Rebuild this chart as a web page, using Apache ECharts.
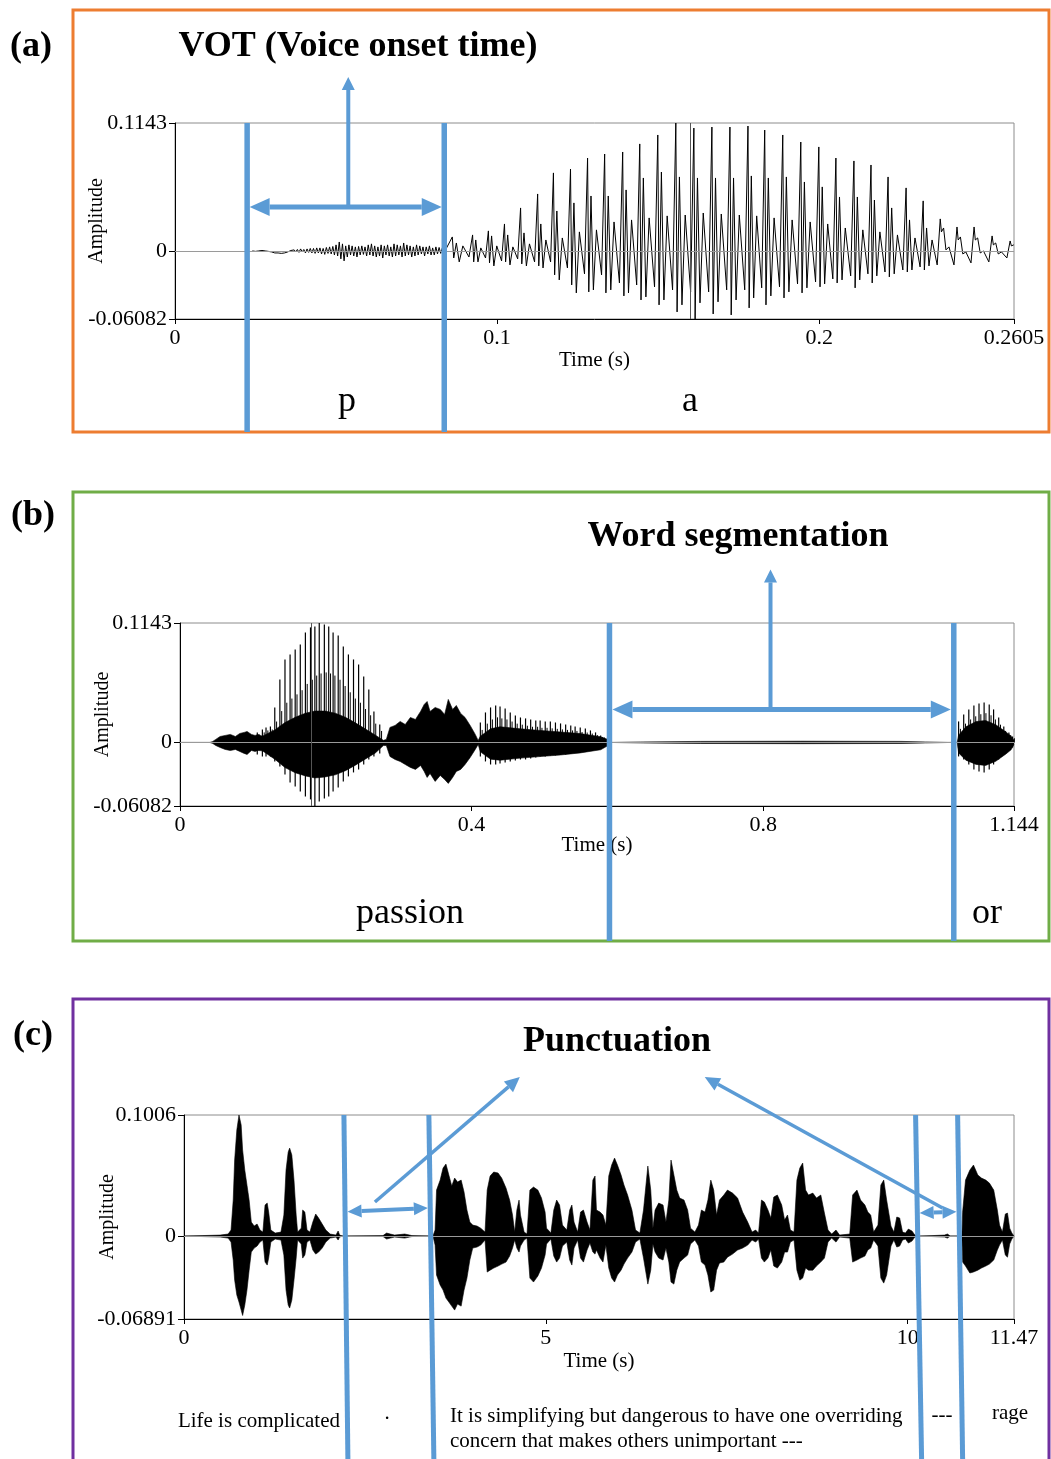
<!DOCTYPE html>
<html>
<head>
<meta charset="utf-8">
<script src="https://cdn.jsdelivr.net/npm/echarts@6.0.0/dist/echarts.min.js"></script>
<style>
html,body{margin:0;padding:0;background:#fff;}
#chart{width:1051px;height:1459px;}
</style>
</head>
<body>
<div id="chart"></div>
<script>
// ---------------- axis ranges and tick labels ----------------
const aTimeTicks = [0, 0.1, 0.2, 0.2605];
const bTimeTicks = [0, 0.4, 0.8, 1.144];
const cTimeTicks = [0, 5, 10, 11.47];
const aAmpTicks = [-0.06082, 0, 0.1143];
const bAmpTicks = [-0.06082, 0, 0.1143];
const cAmpTicks = [-0.06891, 0, 0.1006];

// ---------------- (a) "pa": aspiration noise then voicing ----------------
// aspiration noise, sampled every 0.5 ms from 24 ms
const aNoiseStart = 0.024;
const aNoiseStep = 0.0005;
const aNoise = [
  0, 0.0004, -0.0004, 0.0004, 0, -0.0004, 0.0004, -0.0004, 0, 0.0004, -0.0004, 0,
  -0.0009, -0.0013, -0.0018, -0.0022, -0.0018, -0.0027, -0.0022, -0.0027, -0.0018, -0.0013, -0.0009, -0.0004, 0.0004, -0.0004,
  0.0009, -0.0009, 0.0013, -0.0013, 0.0018, -0.0009, 0.0013, -0.0018, 0.0018, -0.0013, 0.0022, -0.0018,
  0.0022, -0.0022, 0.0027, -0.0018, 0.0027, -0.0027, 0.0022, -0.0031, 0.0031, -0.0022, 0.0036, -0.0027,
  0.0040, -0.0036, 0.0054, -0.0045, 0.0080, -0.0071, 0.0063, -0.0089, 0.0045, -0.0054, 0.0054, -0.0036,
  0.0045, -0.0045, 0.0036, -0.0054, 0.0040, -0.0036, 0.0045, -0.0031, 0.0036, -0.0045, 0.0054, -0.0036,
  0.0063, -0.0045, 0.0045, -0.0054, 0.0036, -0.0045, 0.0054, -0.0063, 0.0045, -0.0036, 0.0054, -0.0045,
  0.0036, -0.0054, 0.0063, -0.0045, 0.0054, -0.0036, 0.0045, -0.0054, 0.0071, -0.0045, 0.0054, -0.0036,
  0.0045, -0.0054, 0.0036, -0.0045, 0.0054, -0.0036, 0.0045, -0.0027, 0.0036, -0.0045, 0.0036, -0.0027,
  0.0045, -0.0036, 0.0027, -0.0036, 0.0036, -0.0027, 0.0031, -0.0022, 0.0027, -0.0018, 0.0009
];
// glottal pulses: [time, peak, dip, 2nd peak, 2nd dip, 3rd peak, 3rd dip]
const aPulses = [
  [0.0861, 0.0125, -0.0063, 0.0071, -0.0098, 0.0045, -0.0054],
  [0.0924, 0.0143, -0.0098, 0.0098, -0.0098, 0.0027, -0.0063],
  [0.0973, 0.0179, -0.0107, 0.0134, -0.0134, 0.0045, -0.0089],
  [0.1023, 0.0241, -0.0098, 0.0143, -0.0125, 0.0036, -0.0071],
  [0.1073, 0.0384, -0.0116, 0.0161, -0.0134, 0.0063, -0.0098],
  [0.1126, 0.0509, -0.0134, 0.0241, -0.0152, 0.0098, -0.0098],
  [0.1175, 0.0697, -0.0214, 0.0357, -0.0259, 0.0116, -0.0152],
  [0.1228, 0.0732, -0.0304, 0.0429, -0.0375, 0.0170, -0.0205],
  [0.1281, 0.0830, -0.0366, 0.0491, -0.0348, 0.0188, -0.0214],
  [0.1334, 0.0866, -0.0375, 0.0491, -0.0348, 0.0259, -0.0286],
  [0.1390, 0.0884, -0.0402, 0.0545, -0.0375, 0.0277, -0.0304],
  [0.1443, 0.0956, -0.0438, 0.0652, -0.0411, 0.0295, -0.0321],
  [0.1499, 0.1036, -0.0482, 0.0705, -0.0438, 0.0313, -0.0348],
  [0.1555, 0.1143, -0.0545, 0.0661, -0.0482, 0.0321, -0.0366],
  [0.1611, 0.1098, -0.0608, 0.0652, -0.0464, 0.0339, -0.0366],
  [0.1667, 0.1107, -0.0563, 0.0652, -0.0455, 0.0330, -0.0348],
  [0.1723, 0.1107, -0.0572, 0.0652, -0.0438, 0.0321, -0.0348],
  [0.1779, 0.1116, -0.0509, 0.0670, -0.0420, 0.0313, -0.0330],
  [0.1831, 0.1080, -0.0482, 0.0652, -0.0402, 0.0295, -0.0321],
  [0.1887, 0.1036, -0.0420, 0.0661, -0.0366, 0.0277, -0.0295],
  [0.1943, 0.0973, -0.0375, 0.0616, -0.0330, 0.0259, -0.0277],
  [0.1999, 0.0929, -0.0321, 0.0572, -0.0295, 0.0241, -0.0250],
  [0.2052, 0.0830, -0.0286, 0.0482, -0.0259, 0.0205, -0.0223],
  [0.2108, 0.0804, -0.0330, 0.0482, -0.0259, 0.0188, -0.0205],
  [0.2161, 0.0768, -0.0286, 0.0455, -0.0223, 0.0170, -0.0188],
  [0.2214, 0.0661, -0.0232, 0.0384, -0.0205, 0.0143, -0.0170],
  [0.2270, 0.0563, -0.0188, 0.0277, -0.0170, 0.0116, -0.0143],
  [0.2323, 0.0447, -0.0170, 0.0205, -0.0134, 0.0098, -0.0125],
  [0.2376, 0.0286, 0.0170, 0.0205, 0.0009, 0.0036, -0.0125],
  [0.2428, 0.0214, 0.0098, 0.0125, -0.0027, -0.0009, -0.0107],
  [0.2481, 0.0214, 0.0098, 0.0116, -0.0018, 0.0000, -0.0098],
  [0.2537, 0.0134, 0.0054, 0.0071, -0.0027, -0.0009, -0.0063],
  [0.2593, 0.0089, 0.0045, 0.0054, 0.0009, 0.0018, -0.0018]
];
// where each extremum falls within its pitch period
const aPulsePhase = [0, 0.07, 0.2, 0.34, 0.52, 0.82];
const aCursor = 0.1558;

// ---------------- (b) "passion or": envelopes [time, upper, lower] ----------------
const bBurst = [
  [0, 0, 0], [0.041, 0, 0], [0.045, 0.0010, -0.0010], [0.049, 0.0029, -0.0029], [0.055, 0.0057, -0.0048],
  [0.062, 0.0067, -0.0067], [0.069, 0.0077, -0.0077], [0.076, 0.0057, -0.0067], [0.082, 0.0086, -0.0086],
  [0.088, 0.0096, -0.0105], [0.092, 0.0105, -0.0115], [0.098, 0.0077, -0.0077], [0.103, 0.0067, -0.0086],
  [0.107, 0.0077, -0.0077]
];
const bVowelCore = [
  [0.113, 0.0060, -0.0080], [0.130, 0.0120, -0.0160], [0.144, 0.0190, -0.0240], [0.158, 0.0240, -0.0290],
  [0.172, 0.0280, -0.0320], [0.185, 0.0300, -0.0340], [0.199, 0.0300, -0.0330], [0.213, 0.0280, -0.0310],
  [0.227, 0.0240, -0.0270], [0.240, 0.0190, -0.0220], [0.254, 0.0130, -0.0160], [0.268, 0.0070, -0.0100],
  [0.279, 0.0020, -0.0030]
];
const bFricative = [
  [0.283, 0.0029, -0.0029], [0.288, 0.0144, -0.0134], [0.295, 0.0163, -0.0163], [0.302, 0.0201, -0.0182],
  [0.309, 0.0172, -0.0211], [0.316, 0.0239, -0.0239], [0.323, 0.0220, -0.0258], [0.330, 0.0297, -0.0220],
  [0.335, 0.0364, -0.0278], [0.339, 0.0392, -0.0335], [0.343, 0.0297, -0.0297], [0.350, 0.0335, -0.0373],
  [0.357, 0.0316, -0.0316], [0.363, 0.0268, -0.0354], [0.368, 0.0412, -0.0392], [0.374, 0.0316, -0.0335],
  [0.379, 0.0354, -0.0278], [0.385, 0.0278, -0.0258], [0.391, 0.0239, -0.0211], [0.398, 0.0163, -0.0144],
  [0.405, 0.0077, -0.0067], [0.409, 0.0019, -0.0019]
];
const bIonCore = [
  [0.412, 0.0060, -0.0090], [0.426, 0.0130, -0.0160], [0.439, 0.0150, -0.0170], [0.467, 0.0130, -0.0150],
  [0.494, 0.0115, -0.0135], [0.522, 0.0100, -0.0120], [0.549, 0.0085, -0.0100], [0.577, 0.0055, -0.0070],
  [0.586, 0.0030, -0.0035]
];
const bPause = [
  [0.590, 0, 0], [0.632, 0.0005, -0.0005], [0.714, 0.0010, -0.0010], [0.851, 0.0012, -0.0012],
  [0.989, 0.0010, -0.0010], [1.023, 0.0005, -0.0005], [1.057, 0, 0]
];
const bOrCore = [
  [1.066, 0, 0], [1.068, 0.0070, -0.0100], [1.078, 0.0150, -0.0170], [1.092, 0.0200, -0.0210],
  [1.105, 0.0210, -0.0220], [1.119, 0.0170, -0.0180], [1.133, 0.0100, -0.0110], [1.140, 0.0060, -0.0070],
  [1.144, 0.0020, -0.0020]
];
// voiced pulses [time, peak, trough, secondary peak]
const bPulsesA = [
  [0.106, 0.0096, -0.0115, 0.0077], [0.113, 0.0124, -0.0134, 0.0096], [0.118, 0.0144, -0.0134, 0.0115],
  [0.124, 0.0153, -0.0134, 0.0124], [0.130, 0.0335, -0.0182, 0.0200], [0.137, 0.0603, -0.0230, 0.0300],
  [0.144, 0.0794, -0.0306, 0.0380], [0.151, 0.0842, -0.0383, 0.0420], [0.158, 0.0890, -0.0421, 0.0460],
  [0.165, 0.0938, -0.0469, 0.0500], [0.172, 0.1053, -0.0517, 0.0560], [0.179, 0.1101, -0.0545, 0.0600],
  [0.185, 0.1110, -0.0608, 0.0640], [0.191, 0.1143, -0.0565, 0.0660], [0.198, 0.1129, -0.0536, 0.0670],
  [0.204, 0.1110, -0.0517, 0.0660], [0.210, 0.1053, -0.0469, 0.0640], [0.217, 0.1024, -0.0431, 0.0600],
  [0.224, 0.0919, -0.0373, 0.0540], [0.231, 0.0842, -0.0325, 0.0480], [0.238, 0.0794, -0.0287, 0.0420],
  [0.245, 0.0746, -0.0258, 0.0380], [0.252, 0.0632, -0.0211, 0.0320], [0.259, 0.0507, -0.0163, 0.0260],
  [0.266, 0.0297, -0.0134, 0.0180], [0.274, 0.0172, -0.0105, 0.0110]
];
const bPulsesIon = [
  [0.412, 0.0191, -0.0134, 0.0120], [0.419, 0.0287, -0.0182, 0.0180], [0.426, 0.0335, -0.0211, 0.0220],
  [0.433, 0.0354, -0.0211, 0.0240], [0.439, 0.0345, -0.0201, 0.0230], [0.446, 0.0325, -0.0191, 0.0220],
  [0.453, 0.0287, -0.0182, 0.0200], [0.460, 0.0258, -0.0172, 0.0180], [0.467, 0.0239, -0.0163, 0.0170],
  [0.474, 0.0230, -0.0163, 0.0160], [0.481, 0.0220, -0.0153, 0.0150], [0.488, 0.0211, -0.0144, 0.0150],
  [0.494, 0.0211, -0.0134, 0.0140], [0.501, 0.0201, -0.0134, 0.0140], [0.508, 0.0201, -0.0124, 0.0135],
  [0.515, 0.0191, -0.0124, 0.0130], [0.522, 0.0182, -0.0115, 0.0125], [0.529, 0.0172, -0.0115, 0.0120],
  [0.536, 0.0163, -0.0105, 0.0115], [0.542, 0.0153, -0.0096, 0.0110], [0.549, 0.0144, -0.0096, 0.0100],
  [0.556, 0.0134, -0.0086, 0.0095], [0.563, 0.0115, -0.0077, 0.0085], [0.570, 0.0096, -0.0067, 0.0070],
  [0.577, 0.0067, -0.0057, 0.0050], [0.582, 0.0048, -0.0038, 0.0035]
];
const bPulsesOr = [
  [1.068, 0.0201, -0.0134, 0.0130], [1.075, 0.0268, -0.0163, 0.0180], [1.082, 0.0316, -0.0211, 0.0220],
  [1.089, 0.0354, -0.0258, 0.0250], [1.096, 0.0373, -0.0278, 0.0270], [1.103, 0.0383, -0.0287, 0.0280],
  [1.110, 0.0364, -0.0258, 0.0260], [1.116, 0.0316, -0.0211, 0.0220], [1.123, 0.0239, -0.0163, 0.0170],
  [1.130, 0.0153, -0.0096, 0.0110], [1.137, 0.0096, -0.0067, 0.0070], [1.142, 0.0057, -0.0048, 0.0040]
];
const bSecondaryLag = 0.0025; // the secondary peak follows the main one within each period
const bCursor = 0.1775;

// ---------------- (c) sentence: envelopes [time, upper, lower] ----------------
const cLife = [
  [0, 0, 0], [0.50, 0.0008, -0.0008], [0.61, 0.0017, -0.0017], [0.65, 0.0050, -0.0050], [0.68, 0.0299, -0.0199],
  [0.70, 0.0632, -0.0366], [0.73, 0.0881, -0.0490], [0.76, 0.1006, -0.0548], [0.79, 0.0922, -0.0615],
  [0.81, 0.0715, -0.0660], [0.84, 0.0548, -0.0573], [0.87, 0.0424, -0.0449], [0.90, 0.0299, -0.0283],
  [0.93, 0.0116, -0.0133], [0.97, 0.0083, -0.0100], [1.01, 0.0100, -0.0083], [1.05, 0.0050, -0.0050],
  [1.09, 0.0033, -0.0033], [1.12, 0.0258, -0.0216], [1.15, 0.0274, -0.0241], [1.17, 0.0199, -0.0183],
  [1.20, 0.0050, -0.0050], [1.26, 0.0025, -0.0025], [1.34, 0.0033, -0.0033], [1.38, 0.0175, -0.0158],
  [1.41, 0.0548, -0.0449], [1.44, 0.0698, -0.0573], [1.46, 0.0731, -0.0598], [1.49, 0.0673, -0.0532],
  [1.52, 0.0465, -0.0366], [1.55, 0.0175, -0.0183], [1.57, 0.0033, -0.0033], [1.62, 0.0066, -0.0066],
  [1.64, 0.0216, -0.0183], [1.67, 0.0199, -0.0158], [1.70, 0.0050, -0.0050], [1.74, 0.0033, -0.0033],
  [1.78, 0.0116, -0.0116], [1.82, 0.0183, -0.0150], [1.86, 0.0150, -0.0133], [1.91, 0.0100, -0.0100],
  [1.96, 0.0050, -0.0050], [2.02, 0.0017, -0.0017], [2.10, 0.0008, -0.0008], [2.13, 0.0042, -0.0033],
  [2.15, 0.0008, -0.0008], [2.20, 0, 0]
];
const cPauseOne = [
  [2.75, 0.0004, -0.0004], [2.80, 0.0025, -0.0025], [2.85, 0.0017, -0.0017], [2.91, 0.0008, -0.0008],
  [3.05, 0.0017, -0.0017], [3.15, 0.0004, -0.0004], [3.44, 0, 0]
];
const cSentence = [
  [3.47, 0.0050, -0.0075], [3.49, 0.0382, -0.0324], [3.54, 0.0465, -0.0407], [3.58, 0.0565, -0.0449],
  [3.62, 0.0598, -0.0515], [3.66, 0.0507, -0.0548], [3.70, 0.0416, -0.0582], [3.74, 0.0482, -0.0615],
  [3.78, 0.0449, -0.0565], [3.83, 0.0465, -0.0582], [3.87, 0.0366, -0.0449], [3.91, 0.0216, -0.0349],
  [3.95, 0.0116, -0.0199], [3.99, 0.0091, -0.0100], [4.05, 0.0083, -0.0091], [4.10, 0.0066, -0.0075],
  [4.16, 0.0033, -0.0033], [4.19, 0.0382, -0.0299], [4.23, 0.0499, -0.0283], [4.28, 0.0532, -0.0266],
  [4.34, 0.0524, -0.0249], [4.39, 0.0482, -0.0233], [4.45, 0.0399, -0.0216], [4.50, 0.0299, -0.0166],
  [4.54, 0.0175, -0.0100], [4.57, 0.0033, -0.0033], [4.60, 0.0216, -0.0100], [4.63, 0.0299, -0.0133],
  [4.65, 0.0175, -0.0083], [4.70, 0.0033, -0.0033], [4.74, 0.0017, -0.0017], [4.78, 0.0382, -0.0349],
  [4.83, 0.0407, -0.0382], [4.89, 0.0382, -0.0332], [4.94, 0.0316, -0.0266], [4.99, 0.0199, -0.0158],
  [5.01, 0.0066, -0.0066], [5.07, 0.0025, -0.0025], [5.11, 0.0216, -0.0166], [5.15, 0.0299, -0.0216],
  [5.19, 0.0258, -0.0183], [5.23, 0.0091, -0.0083], [5.29, 0.0050, -0.0050], [5.33, 0.0216, -0.0199],
  [5.36, 0.0258, -0.0241], [5.39, 0.0116, -0.0100], [5.44, 0.0033, -0.0033], [5.48, 0.0199, -0.0183],
  [5.52, 0.0216, -0.0216], [5.57, 0.0116, -0.0116], [5.61, 0.0050, -0.0058], [5.65, 0.0465, -0.0133],
  [5.68, 0.0499, -0.0150], [5.70, 0.0216, -0.0116], [5.75, 0.0199, -0.0183], [5.79, 0.0175, -0.0216],
  [5.83, 0.0091, -0.0075], [5.87, 0.0499, -0.0266], [5.91, 0.0590, -0.0349], [5.95, 0.0648, -0.0382],
  [5.99, 0.0590, -0.0324], [6.04, 0.0507, -0.0283], [6.08, 0.0424, -0.0233], [6.13, 0.0341, -0.0183],
  [6.19, 0.0216, -0.0133], [6.24, 0.0050, -0.0050], [6.30, 0.0025, -0.0025], [6.35, 0.0216, -0.0183],
  [6.41, 0.0582, -0.0399], [6.45, 0.0382, -0.0283], [6.48, 0.0066, -0.0066], [6.51, 0.0216, -0.0133],
  [6.56, 0.0274, -0.0183], [6.62, 0.0258, -0.0199], [6.66, 0.0116, -0.0100], [6.70, 0.0299, -0.0216],
  [6.73, 0.0632, -0.0382], [6.77, 0.0507, -0.0399], [6.81, 0.0382, -0.0283], [6.85, 0.0316, -0.0216],
  [6.91, 0.0299, -0.0183], [6.96, 0.0216, -0.0158], [7.00, 0.0066, -0.0066], [7.06, 0.0033, -0.0033],
  [7.11, 0.0091, -0.0083], [7.15, 0.0216, -0.0216], [7.20, 0.0199, -0.0241], [7.24, 0.0299, -0.0324],
  [7.28, 0.0465, -0.0465], [7.32, 0.0382, -0.0449], [7.36, 0.0175, -0.0283], [7.40, 0.0299, -0.0224],
  [7.46, 0.0341, -0.0216], [7.51, 0.0382, -0.0175], [7.58, 0.0357, -0.0150], [7.65, 0.0316, -0.0116],
  [7.72, 0.0199, -0.0100], [7.79, 0.0116, -0.0075], [7.85, 0.0033, -0.0033], [7.90, 0.0050, -0.0050],
  [7.94, 0.0025, -0.0025], [7.98, 0.0299, -0.0183], [8.02, 0.0283, -0.0216], [8.07, 0.0216, -0.0183],
  [8.11, 0.0150, -0.0116], [8.15, 0.0324, -0.0249], [8.20, 0.0341, -0.0266], [8.26, 0.0258, -0.0216],
  [8.30, 0.0133, -0.0133], [8.34, 0.0175, -0.0133], [8.38, 0.0050, -0.0050], [8.43, 0.0033, -0.0033],
  [8.47, 0.0465, -0.0283], [8.51, 0.0565, -0.0366], [8.55, 0.0607, -0.0349], [8.59, 0.0382, -0.0266],
  [8.63, 0.0341, -0.0283], [8.69, 0.0357, -0.0283], [8.74, 0.0316, -0.0249], [8.80, 0.0341, -0.0216],
  [8.85, 0.0191, -0.0183], [8.90, 0.0050, -0.0050], [8.95, 0.0017, -0.0017], [9.01, 0.0050, -0.0050],
  [9.06, 0.0008, -0.0008], [9.20, 0.0017, -0.0017], [9.24, 0.0341, -0.0216], [9.30, 0.0382, -0.0199],
  [9.35, 0.0299, -0.0183], [9.41, 0.0258, -0.0166], [9.45, 0.0199, -0.0116], [9.49, 0.0175, -0.0100],
  [9.53, 0.0033, -0.0033], [9.59, 0.0091, -0.0083], [9.63, 0.0424, -0.0349], [9.67, 0.0465, -0.0391],
  [9.71, 0.0299, -0.0324], [9.77, 0.0083, -0.0083], [9.81, 0.0033, -0.0033], [9.85, 0.0158, -0.0091],
  [9.89, 0.0150, -0.0083], [9.93, 0.0033, -0.0033], [9.97, 0.0025, -0.0025], [10.01, 0.0058, -0.0058],
  [10.06, 0.0042, -0.0042], [10.10, 0.0008, -0.0008], [10.17, 0, 0]
];
const cPauseTwo = [
  [10.51, 0.0008, -0.0008], [10.55, 0.0017, -0.0017], [10.59, 0, 0], [10.75, 0, 0]
];
const cRage = [
  [10.76, 0.0199, -0.0216], [10.80, 0.0465, -0.0249], [10.86, 0.0548, -0.0307], [10.91, 0.0590, -0.0299],
  [10.97, 0.0507, -0.0283], [11.02, 0.0482, -0.0266], [11.08, 0.0465, -0.0249], [11.13, 0.0440, -0.0233],
  [11.19, 0.0382, -0.0199], [11.24, 0.0216, -0.0116], [11.27, 0.0091, -0.0075], [11.31, 0.0033, -0.0033],
  [11.35, 0.0183, -0.0158], [11.38, 0.0191, -0.0175], [11.41, 0.0066, -0.0066], [11.44, 0.0025, -0.0025],
  [11.47, 0, 0]
];

// ---------------- annotation positions (time, amplitude) ----------------
const aBounds = [0.0224, 0.0836];          // p | a
const aArrowAmp = 0.0393;
const aPointer = [0.0538, 0.1554];
const bBounds = [0.5891, 1.0614];          // passion | pause | or
const bArrowAmp = 0.0316;
const bPointer = [0.810, 0.1656];
const cBoundsTop = [2.21, 3.384, 10.11, 10.691];
const cBoundsBottom = [2.265, 3.453, 10.193, 10.76];
const cSpans = [[2.26, 0.0202, 3.37, 0.0233], [10.166, 0.0191, 10.675, 0.0202]];
const cPointers = [[2.638, 0.0283, 4.641, 0.1321], [10.483, 0.0233, 7.196, 0.1321]];

// ---------------- build series data ----------------
const A_MAX = aTimeTicks[aTimeTicks.length - 1];
const aWave = aNoise.map((v, i) => [aNoiseStart + i * aNoiseStep, v]);
aPulses.forEach((row, i) => {
  const t = row[0];
  const next = i + 1 < aPulses.length ? aPulses[i + 1][0] : t + (t - aPulses[i - 1][0]);
  const period = next - t;
  aPulsePhase.forEach((ph, k) => {
    const tt = t + ph * period;
    if (tt <= A_MAX) aWave.push([tt, row[k + 1]]);
  });
});

const bEnvelope = [].concat(bBurst, bVowelCore, bFricative, bIonCore, bPause, bOrCore);
const bPulses = [].concat(bPulsesA, bPulsesIon, bPulsesOr);
const cEnvelope = [].concat(cLife, cPauseOne, cSentence, cPauseTwo, cRage);

// ---------------- chart ----------------
const SERIF = '"Liberation Serif","Times New Roman",serif';
const BLUE = '#5B9BD5';
const chart = echarts.init(document.getElementById('chart'), null, { renderer: 'canvas', width: 1051, height: 1459 });

const gridBoxes = [
  { left: 175, top: 123, width: 839, height: 196 },
  { left: 180, top: 623, width: 834, height: 183 },
  { left: 184, top: 1115, width: 830, height: 204 }
];
const panelBottoms = [432, 941, 1480];

function xAxisFor(gi, ticks, gap) {
  return {
    type: 'value', gridIndex: gi, min: ticks[0], max: ticks[ticks.length - 1],
    name: 'Time (s)', nameLocation: 'middle', nameGap: gap, nameMoveOverlap: false,
    nameTextStyle: { fontFamily: SERIF, fontSize: 21, color: '#000' },
    axisLine: { show: true, onZero: false, lineStyle: { color: '#000', width: 1 } },
    axisTick: { show: true, length: 5, customValues: ticks, lineStyle: { color: '#000', width: 1 } },
    axisLabel: { show: true, customValues: ticks, formatter: v => String(v), fontFamily: SERIF, fontSize: 22, color: '#000', margin: 8 },
    splitLine: { show: false }
  };
}
function yAxisFor(gi, ticks) {
  return {
    type: 'value', gridIndex: gi, min: ticks[0], max: ticks[ticks.length - 1],
    axisLine: { show: true, onZero: false, lineStyle: { color: '#000', width: 1 } },
    axisTick: { show: true, length: 6, customValues: ticks, lineStyle: { color: '#000', width: 1 } },
    axisLabel: { show: true, customValues: ticks, formatter: v => String(v), fontFamily: SERIF, fontSize: 22, color: '#000', margin: 8 },
    splitLine: { show: false }
  };
}
function zeroLine(gi) {
  return {
    type: 'line', xAxisIndex: gi, yAxisIndex: gi, data: [], z: 1, silent: true,
    markLine: { silent: true, symbol: ['none', 'none'], label: { show: false }, animation: false,
      lineStyle: { color: '#9a9a9a', width: 1, type: 'solid' }, data: [{ yAxis: 0 }] }
  };
}
function cursorLine(t) {
  return { silent: true, symbol: ['none', 'none'], label: { show: false }, animation: false,
    lineStyle: { color: '#555', width: 1, type: 'solid' }, data: [{ xAxis: t }] };
}
function envelopeArea(gi, rows, col) {
  return {
    type: 'line', xAxisIndex: gi, yAxisIndex: gi, z: 2, silent: true,
    data: rows.map(r => [r[0], r[col]]), symbol: 'none', showSymbol: false, sampling: null,
    lineStyle: { color: '#000', width: 0.6 }, areaStyle: { color: '#000', opacity: 1 }
  };
}

const option = {
  animation: false,
  backgroundColor: '#fff',
  grid: gridBoxes.map(g => Object.assign({ show: true, borderColor: '#8c8c8c', borderWidth: 1,
    backgroundColor: '#fff', containLabel: false, outerBoundsMode: 'none' }, g)),
  xAxis: [xAxisFor(0, aTimeTicks, 31), xAxisFor(1, bTimeTicks, 29), xAxisFor(2, cTimeTicks, 32)],
  yAxis: [yAxisFor(0, aAmpTicks), yAxisFor(1, bAmpTicks), yAxisFor(2, cAmpTicks)],
  series: [
    zeroLine(0),
    {
      type: 'line', xAxisIndex: 0, yAxisIndex: 0, z: 2, silent: true,
      data: aWave, symbol: 'none', showSymbol: false, sampling: null,
      lineStyle: { color: '#000', width: 1 },
      markLine: cursorLine(aCursor)
    },
    zeroLine(1),
    envelopeArea(1, bEnvelope, 1),
    envelopeArea(1, bEnvelope, 2),
    {
      type: 'custom', xAxisIndex: 1, yAxisIndex: 1, z: 3, silent: true,
      data: bPulses, encode: { x: 0, y: [1, 2] },
      renderItem: (params, api) => {
        const t = api.value(0);
        const p0 = api.coord([t, api.value(2)]);
        const p1 = api.coord([t, api.value(1)]);
        const q0 = api.coord([t + bSecondaryLag, 0]);
        const q1 = api.coord([t + bSecondaryLag, api.value(3)]);
        return { type: 'group', children: [
          { type: 'line', shape: { x1: p0[0], y1: p0[1], x2: p1[0], y2: p1[1] }, style: { stroke: '#000', lineWidth: 1.2 } },
          { type: 'line', shape: { x1: q0[0], y1: q0[1], x2: q1[0], y2: q1[1] }, style: { stroke: '#000', lineWidth: 1 } }
        ] };
      },
      markLine: cursorLine(bCursor)
    },
    zeroLine(2),
    envelopeArea(2, cEnvelope, 1),
    envelopeArea(2, cEnvelope, 2)
  ]
};
chart.setOption(option);

// ---------------- frames, labels and blue annotations ----------------
const px = (gi, t, v) => chart.convertToPixel({ gridIndex: gi }, [t, v]);
const els = [];
function seg(p, q, w) {
  els.push({ type: 'line', z: 100, silent: true, shape: { x1: p[0], y1: p[1], x2: q[0], y2: q[1] },
    style: { stroke: BLUE, lineWidth: w, lineCap: 'butt' } });
}
function head(tip, from, len, half) {
  const dx = tip[0] - from[0], dy = tip[1] - from[1];
  const L = Math.hypot(dx, dy), ux = dx / L, uy = dy / L;
  const bx = tip[0] - ux * len, by = tip[1] - uy * len;
  els.push({ type: 'polygon', z: 101, silent: true,
    shape: { points: [tip, [bx - uy * half, by + ux * half], [bx + uy * half, by - ux * half]] },
    style: { fill: BLUE } });
  return [bx, by];
}
function doubleArrow(p, q, w, len, half) {
  const a = head(p, q, len, half);
  const b = head(q, p, len, half);
  seg(a, b, w);
}
function pointer(from, tip, w, len, half) {
  const b = head(tip, from, len, half);
  seg(from, b, w);
}
function text(str, x, y, size, weight, align, rotation) {
  els.push({ type: 'text', z: 50, silent: true, x: x, y: y, rotation: rotation || 0,
    style: { text: str, fontFamily: SERIF, fontSize: size, fontWeight: weight || 'normal',
      fill: '#000', textAlign: align || 'center', textVerticalAlign: 'middle' } });
}

// panel frames
els.push({ type: 'rect', z: 10, silent: true, shape: { x: 73, y: 10, width: 976, height: 422 }, style: { fill: null, stroke: '#ED7D31', lineWidth: 3 } });
els.push({ type: 'rect', z: 10, silent: true, shape: { x: 73, y: 492, width: 976, height: 449 }, style: { fill: null, stroke: '#70AD47', lineWidth: 3 } });
els.push({ type: 'rect', z: 10, silent: true, shape: { x: 73, y: 999, width: 976, height: 490 }, style: { fill: null, stroke: '#7030A0', lineWidth: 3 } });

// panel tags and titles
text('(a)', 31, 47, 36, 'bold');
text('(b)', 33, 516, 36, 'bold');
text('(c)', 33, 1036, 36, 'bold');
text('VOT (Voice onset time)', 358, 47, 36, 'bold');
text('Word segmentation', 738, 537, 36, 'bold');
text('Punctuation', 617, 1042, 36, 'bold');

// amplitude axis titles
gridBoxes.forEach((g, i) => {
  const xs = [97, 103, 108];
  text('Amplitude', xs[i], g.top + g.height / 2, 20, 'normal', 'center', Math.PI / 2);
});

// (a) boundaries and VOT span
const aTop = gridBoxes[0].top;
const aX = aBounds.map(t => px(0, t, 0)[0]);
aX.forEach(x => seg([x, aTop], [x, panelBottoms[0]], 5.5));
const aY = px(0, aBounds[0], aArrowAmp)[1];
doubleArrow([aX[0] + 2.5, aY], [aX[1] - 2.5, aY], 5, 20, 9);
const aP = px(0, aPointer[0], aPointer[1]);
pointer([aP[0], aY], aP, 4, 13, 6.5);
text('p', 347, 402, 36);
text('a', 690, 402, 36);

// (b) boundaries and pause span
const bTop = gridBoxes[1].top;
const bX = bBounds.map(t => px(1, t, 0)[0]);
bX.forEach(x => seg([x, bTop], [x, panelBottoms[1]], 5.5));
const bY = px(1, bBounds[0], bArrowAmp)[1];
doubleArrow([bX[0] + 3, bY], [bX[1] - 3, bY], 5, 20, 9);
const bP = px(1, bPointer[0], bPointer[1]);
pointer([bP[0], bY], bP, 4, 13, 6.5);
text('passion', 410, 914, 36);
text('or', 987, 914, 36);

// (c) boundaries, pause spans and pointers to the title
const cTop = gridBoxes[2].top;
cBoundsTop.forEach((t, i) => {
  const xt = px(2, t, 0)[0];
  const xb = px(2, cBoundsBottom[i], 0)[0];
  seg([xt, cTop], [xb, 1459], 5);
});
cSpans.forEach(s => doubleArrow(px(2, s[0], s[1]), px(2, s[2], s[3]), 4, 14, 6.5));
cPointers.forEach(p => pointer(px(2, p[0], p[1]), px(2, p[2], p[3]), 3.5, 15, 7));
text('Life is complicated', 340, 1421, 21, 'normal', 'right');
text('.', 387, 1413, 21);
text('It is simplifying but dangerous to have one overriding', 450, 1416, 21, 'normal', 'left');
text('concern that makes others unimportant ---', 450, 1441, 21, 'normal', 'left');
text('---', 942, 1415, 21);
text('rage', 1010, 1413, 21);

chart.setOption({ graphic: { elements: els } });
</script>
</body>
</html>
